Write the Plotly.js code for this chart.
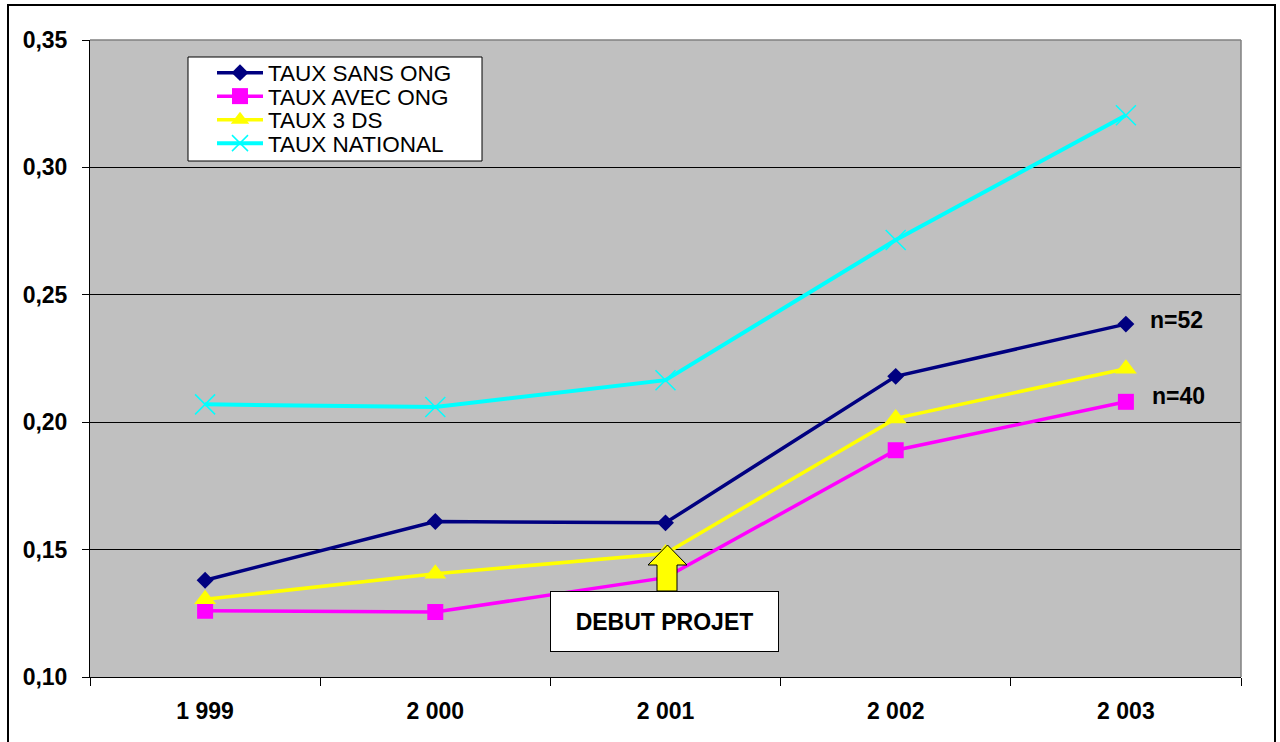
<!DOCTYPE html>
<html>
<head>
<meta charset="utf-8">
<script src="https://cdn.plot.ly/plotly-3.0.1.min.js"></script>
<style>
  html, body { margin: 0; padding: 0; background: #ffffff; }
  #chart { width: 1280px; height: 742px; }
</style>
</head>
<body>
<div id="chart"></div>
<script>
// ---- Data ----
const years = ['1 999', '2 000', '2 001', '2 002', '2 003'];
const tauxSansOng = [0.138, 0.161, 0.1605, 0.218, 0.2385];
const tauxAvecOng = [0.126, 0.1255, 0.139, 0.189, 0.208];
const taux3DS = [0.1305, 0.1405, 0.1485, 0.2015, 0.221];
const tauxNational = [0.207, 0.206, 0.2165, 0.2715, 0.3205];
const seriesNames = ['TAUX SANS ONG', 'TAUX AVEC ONG', 'TAUX 3 DS', 'TAUX NATIONAL'];
const endLabels = ['n=52', 'n=40'];
const eventLabel = 'DEBUT PROJET';

// ---- Layout helpers (pixel -> paper) ----
const M = {l: 90, r: 39, t: 40, b: 65};
const W = 1280, H = 742;
const PW = W - M.l - M.r, PH = H - M.t - M.b;
const px = x => (x - M.l) / PW;
const py = y => (H - M.b - y) / PH;

const FONT = 'Liberation Sans, Arial, sans-serif';

const traces = [
  {name: seriesNames[0], x: years, y: tauxSansOng, type: 'scatter', mode: 'lines+markers',
   line: {color: '#000080', width: 3.5}, marker: {symbol: 'diamond', size: 13, color: '#000080'}, legend: 'legend'},
  {name: seriesNames[1], x: years, y: tauxAvecOng, type: 'scatter', mode: 'lines+markers',
   line: {color: '#FF00FF', width: 3.5}, marker: {symbol: 'square', size: 16, color: '#FF00FF'}, legend: 'legend2'},
  {name: seriesNames[2], x: years, y: taux3DS, type: 'scatter', mode: 'lines+markers',
   line: {color: '#FFFF00', width: 3.5}, marker: {symbol: 'triangle-up', size: 19, color: '#FFFF00'}, legend: 'legend3'},
  {name: seriesNames[3], x: years, y: tauxNational, type: 'scatter', mode: 'lines+markers',
   line: {color: '#00FFFF', width: 4}, marker: {symbol: 'x-thin-open', size: 20, color: '#00FFFF', line: {color: '#00FFFF', width: 1.5}}, legend: 'legend4'}
];

function leg(yc) {
  return {x: px(212), xanchor: 'left', y: py(yc), yanchor: 'middle',
          bgcolor: 'rgba(0,0,0,0)', borderwidth: 0, itemwidth: 46,
          font: {family: FONT, size: 22.5, color: '#000'}};
}

const layout = {
  width: W, height: H,
  margin: M,
  paper_bgcolor: '#ffffff',
  plot_bgcolor: '#C0C0C0',
  separators: ', ',
  showlegend: true,
  legend: leg(73), legend2: leg(96.5), legend3: leg(120), legend4: leg(143.5),
  xaxis: {
    type: 'category', range: [-0.5, 4.5], tickson: 'boundaries', ticks: 'outside', ticklen: 8, tickwidth: 1, tickcolor: '#000',
    showline: true, linecolor: '#000', linewidth: 1, showgrid: false, zeroline: false,
    tickfont: {family: FONT, size: 23, color: '#000', weight: 'bold'},
    ticklabelstandoff: 13, fixedrange: true
  },
  yaxis: {
    range: [0.10, 0.35], dtick: 0.05, tick0: 0.10, tickformat: '.2f',
    ticks: 'outside', ticklen: 7, tickwidth: 1, tickcolor: '#000',
    showline: true, linecolor: '#000', linewidth: 1,
    showgrid: true, gridcolor: '#000', gridwidth: 1, zeroline: false,
    tickfont: {family: FONT, size: 23, color: '#000', weight: 'bold'},
    ticklabelstandoff: 10, fixedrange: true
  },
  shapes: [
    // outer chart border
    {type: 'rect', xref: 'paper', yref: 'paper', x0: px(8), x1: px(1275), y0: py(760), y1: py(5),
     line: {color: '#000', width: 2}, fillcolor: 'rgba(0,0,0,0)', layer: 'above'},
    // plot area top/right border
    {type: 'line', xref: 'paper', yref: 'paper', x0: 0, x1: 1, y0: 1, y1: 1, line: {color: '#808080', width: 1.5}},
    {type: 'line', xref: 'paper', yref: 'paper', x0: 1, x1: 1, y0: 0, y1: 1, line: {color: '#808080', width: 1.5}},
    // legend box
    {type: 'rect', xref: 'paper', yref: 'paper', x0: px(188), x1: px(482), y0: py(161), y1: py(57),
     line: {color: '#000', width: 1}, fillcolor: '#ffffff', layer: 'above'},
    // arrow
    {type: 'path', xref: 'paper', yref: 'paper', layer: 'above',
     path: 'M' + px(657) + ',' + py(591) + ' L' + px(657) + ',' + py(565) + ' L' + px(648) + ',' + py(565) +
           ' L' + px(667.5) + ',' + py(545) + ' L' + px(687) + ',' + py(565) + ' L' + px(677) + ',' + py(565) +
           ' L' + px(677) + ',' + py(591) + ' Z',
     fillcolor: '#FFFF00', line: {color: '#000', width: 1}}
  ],
  annotations: [
    {x: years[4], y: tauxSansOng[4], xref: 'x', yref: 'y', text: endLabels[0], showarrow: false,
     xanchor: 'left', xshift: 22, yshift: 4, font: {family: FONT, size: 23, color: '#000', weight: 'bold'}},
    {x: years[4], y: tauxAvecOng[4], xref: 'x', yref: 'y', text: endLabels[1], showarrow: false,
     xanchor: 'left', xshift: 24, yshift: 6, font: {family: FONT, size: 23, color: '#000', weight: 'bold'}},
    {x: px(664.5), y: py(621.5), xref: 'paper', yref: 'paper', text: eventLabel, showarrow: false,
     xanchor: 'center', yanchor: 'middle', width: 227, height: 59, borderpad: 0, borderwidth: 1,
     bordercolor: '#000', bgcolor: '#ffffff', font: {family: FONT, size: 23, color: '#000', weight: 'bold'}}
  ]
};

Plotly.newPlot('chart', traces, layout, {displayModeBar: false, staticPlot: true});
</script>
</body>
</html>
